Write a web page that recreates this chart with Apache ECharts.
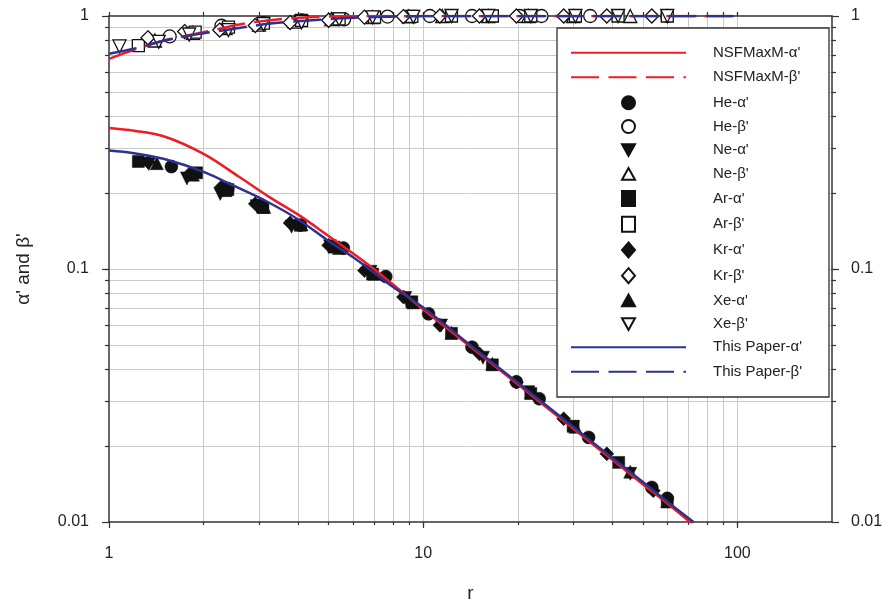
<!DOCTYPE html>
<html><head><meta charset="utf-8">
<script src="https://cdn.jsdelivr.net/npm/echarts@6/dist/echarts.min.js"></script>
<style>html,body{margin:0;padding:0;background:#fff}#c{width:888px;height:601px}</style>
</head><body><div id="c"></div>
<script>
// ---- curves ----
const nsfAlphaR = [1, 1.2, 1.5, 2, 2.6, 3.25, 4, 5, 6, 7, 8, 10, 15, 20, 30, 40, 50, 60, 72];
const nsfAlphaY = [0.361, 0.352, 0.334, 0.285, 0.231, 0.192, 0.164, 0.135, 0.1148, 0.0995, 0.0870, 0.0692, 0.0465, 0.0350, 0.0234, 0.0176, 0.0141, 0.0118, 0.0098];
const nsfBetaR = [1, 1.2, 1.5, 2, 2.6, 3.2, 4, 5, 6, 8, 10, 20, 50, 100];
const nsfBetaY = [0.677, 0.735, 0.800, 0.862, 0.926, 0.960, 0.983, 0.995, 0.999, 1.0, 1.0, 1.0, 1.0, 1.0];
const thisAlphaR = [1, 1.2, 1.5, 2, 2.5, 3.2, 4, 5, 6, 7, 8, 10, 15, 20, 30, 40, 50, 60, 72.5];
const thisAlphaY = [0.294, 0.287, 0.272, 0.242, 0.213, 0.184, 0.157, 0.129, 0.111, 0.0964, 0.0851, 0.0704, 0.0471, 0.0355, 0.0238, 0.0179, 0.0144, 0.0120, 0.0100];
const thisBetaR = [1, 1.2, 1.5, 2, 2.5, 3.2, 4, 5.2, 6.6, 8.4, 10, 20, 50, 100];
const thisBetaY = [0.709, 0.742, 0.800, 0.855, 0.890, 0.931, 0.954, 0.975, 0.989, 0.995, 0.999, 1.0, 1.0, 1.0];

// ---- measured points ----
const heAlphaR = [1.58, 2.39, 3.05, 4.06, 5.57, 7.6, 10.4, 14.3, 19.8, 23.4, 33.6, 53.4, 59.8];
const heAlphaY = [0.254, 0.208, 0.179, 0.149, 0.121, 0.0934, 0.0665, 0.0491, 0.0358, 0.0307, 0.0216, 0.0137, 0.0124];
const heBetaR = [1.56, 2.28, 3.1, 4.1, 5.6, 7.7, 10.5, 14.3, 20.3, 23.8, 34.0, 59.8];
const heBetaY = [0.830, 0.915, 0.937, 0.960, 0.970, 0.995, 1.0, 1.0, 1.0, 1.0, 1.0, 1.0];
const neAlphaR = [1.34, 1.77, 2.26, 2.95, 3.81, 5.05, 6.8, 8.77, 11.4, 15.5, 21.6, 30.0, 45.6];
const neAlphaY = [0.260, 0.228, 0.198, 0.177, 0.147, 0.123, 0.0975, 0.0768, 0.0598, 0.0446, 0.0326, 0.0237, 0.0155];
const neBetaR = [1.40, 1.85, 2.35, 3.0, 3.9, 5.1, 6.9, 9.0, 11.5, 16.1, 21.6, 30.0, 45.6];
const neBetaY = [0.800, 0.858, 0.895, 0.925, 0.950, 0.972, 0.990, 0.997, 1.0, 1.0, 1.0, 1.0, 1.0];
const arAlphaR = [1.24, 1.90, 2.39, 3.09, 4.06, 5.2, 6.9, 9.2, 12.3, 16.6, 22.0, 30.0, 41.9, 59.8];
const arAlphaY = [0.266, 0.240, 0.206, 0.175, 0.149, 0.122, 0.0955, 0.0742, 0.0557, 0.0418, 0.0322, 0.0239, 0.0172, 0.0120];
const arBetaR = [1.24, 1.88, 2.4, 3.1, 4.1, 5.4, 7.0, 9.2, 12.3, 16.6, 22.0, 30.5, 41.7, 59.8];
const arBetaY = [0.764, 0.863, 0.903, 0.937, 0.960, 0.975, 0.990, 0.997, 1.0, 1.0, 1.0, 1.0, 1.0, 1.0];
const krAlphaR = [1.33, 1.80, 2.28, 2.92, 3.77, 5.0, 6.5, 8.65, 11.3, 15.1, 19.8, 28.0, 38.4, 54.0];
const krAlphaY = [0.265, 0.237, 0.211, 0.181, 0.152, 0.124, 0.0986, 0.0775, 0.0600, 0.0462, 0.0357, 0.0256, 0.0186, 0.0133];
const krBetaR = [1.33, 1.74, 2.25, 2.92, 3.77, 5.0, 6.5, 8.65, 11.3, 15.1, 19.8, 28.0, 38.4, 53.4];
const krBetaY = [0.820, 0.868, 0.880, 0.917, 0.942, 0.962, 0.990, 0.995, 1.0, 1.0, 1.0, 1.0, 1.0, 1.0];
const xeAlphaR = [1.42, 1.85, 2.35, 3.12, 4.1, 5.4, 7.0, 9.3, 12.3, 16.6, 22.0, 30.5, 45.6, 59.8];
const xeAlphaY = [0.262, 0.236, 0.205, 0.176, 0.150, 0.121, 0.0957, 0.0738, 0.0560, 0.0422, 0.0325, 0.0238, 0.0158, 0.0121];
const xeBetaR = [1.08, 1.44, 1.80, 2.4, 3.1, 4.1, 5.4, 6.9, 9.3, 12.3, 16.1, 22.0, 30.5, 41.7, 59.8];
const xeBetaY = [0.758, 0.790, 0.845, 0.880, 0.928, 0.945, 0.970, 0.988, 0.992, 1.0, 1.0, 1.0, 1.0, 1.0, 1.0];

// ---- ticks ----
const xMajor = [1, 10, 100];
const xMinor = [2, 3, 4, 5, 6, 7, 8, 9, 10, 20, 30, 40, 50, 60, 70, 80, 90, 100];
const yMajor = [0.01, 0.1, 1];
const yMinor = [0.02, 0.03, 0.04, 0.05, 0.06, 0.07, 0.08, 0.09, 0.1, 0.2, 0.3, 0.4, 0.5, 0.6, 0.7, 0.8, 0.9];

const lineNames = ["NSFMaxM-\u03b1'", "NSFMaxM-\u03b2'"];
const gasNames = ["He-\u03b1'", "He-\u03b2'", "Ne-\u03b1'", "Ne-\u03b2'", "Ar-\u03b1'", "Ar-\u03b2'", "Kr-\u03b1'", "Kr-\u03b2'", "Xe-\u03b1'", "Xe-\u03b2'"];
const paperNames = ["This Paper-\u03b1'", "This Paper-\u03b2'"];

const FONT = "'Liberation Sans', Arial, sans-serif";
const RED = '#ee1d24', BLUE = '#2e3192', INK = '#111';
const TRI_DOWN = 'path://M0,0L20,0L10,18Z';
const TRI_UP = 'path://M10,0L20,18L0,18Z';

function pts(rs, ys) { return rs.map((r, i) => [r, ys[i]]); }
function sc(name, rs, ys, symbol, filled, size) {
  return {
    type: 'scatter', name, data: pts(rs, ys), symbol, symbolSize: size,
    clip: false, z: 2,
    itemStyle: filled ? { color: INK, borderColor: INK, borderWidth: 0.5, opacity: 1 }
                      : { color: '#fff', borderColor: INK, borderWidth: 1.3, opacity: 1 }
  };
}
function ln(name, rs, ys, color, dashed, z) {
  return {
    type: 'line', name, data: pts(rs, ys), symbol: 'none', showSymbol: false, smooth: 0.35,
    z, itemStyle: { color }, lineStyle: { color, width: 2.5, type: dashed ? [28, 9.5] : 'solid' }
  };
}

const axisLineStyle = { color: '#333', width: 1.5 };
const tickStyle = { color: '#333', width: 1.2 };
const labelStyle = { fontSize: 16, color: '#222', fontFamily: FONT };
const gridLine = { show: true, lineStyle: { color: '#cacaca', width: 1 } };

const xBase = { type: 'log', logBase: 10, min: 1, max: 200, gridIndex: 0 };
const yBase = { type: 'log', logBase: 10, min: 0.01, max: 1, gridIndex: 0 };
const legendText = (pad) => ({ fontSize: 15, color: '#222', fontFamily: FONT, lineHeight: 15, padding: [0, 0, 0, pad] });

const option = {
  animation: false,
  backgroundColor: '#fff',
  grid: { left: 109, right: 56, top: 16, bottom: 79, containLabel: false, outerBoundsMode: 'none' },
  xAxis: [
    Object.assign({}, xBase, {
      position: 'bottom', axisLine: { show: true, lineStyle: axisLineStyle },
      axisTick: { show: true, customValues: xMajor, length: 6, lineStyle: tickStyle },
      axisLabel: Object.assign({ customValues: xMajor, margin: 24 }, labelStyle),
      splitLine: { show: false },
      name: 'r', nameLocation: 'middle', nameGap: 62,
      nameTextStyle: { fontSize: 19, color: '#222', fontFamily: FONT }
    }),
    Object.assign({}, xBase, {
      position: 'bottom', axisLine: { show: false },
      axisTick: { show: true, customValues: xMinor, length: 3, lineStyle: tickStyle },
      axisLabel: { show: false }, splitLine: gridLine
    }),
    Object.assign({}, xBase, {
      position: 'top', axisLine: { show: true, lineStyle: axisLineStyle },
      axisTick: { show: true, customValues: xMajor.concat(xMinor), length: 4, lineStyle: tickStyle },
      axisLabel: { show: false }, splitLine: { show: false }
    })
  ],
  yAxis: [
    Object.assign({}, yBase, {
      position: 'left', axisLine: { show: true, lineStyle: axisLineStyle },
      axisTick: { show: true, customValues: yMajor, length: 7, lineStyle: tickStyle },
      axisLabel: Object.assign({ customValues: yMajor, margin: 20 }, labelStyle),
      splitLine: { show: false },
      name: "\u03b1' and \u03b2'", nameLocation: 'middle', nameGap: 76,
      nameTextStyle: { fontSize: 19, color: '#222', fontFamily: FONT }
    }),
    Object.assign({}, yBase, {
      position: 'left', axisLine: { show: false },
      axisTick: { show: true, customValues: yMinor, length: 4, lineStyle: tickStyle },
      axisLabel: { show: false }, splitLine: gridLine
    }),
    Object.assign({}, yBase, {
      position: 'right', axisLine: { show: true, lineStyle: axisLineStyle },
      axisTick: { show: true, customValues: yMajor, length: 7, lineStyle: tickStyle },
      axisLabel: Object.assign({ customValues: yMajor, margin: 19 }, labelStyle),
      splitLine: { show: false }
    }),
    Object.assign({}, yBase, {
      position: 'right', axisLine: { show: false },
      axisTick: { show: true, customValues: yMinor, length: 4, lineStyle: tickStyle },
      axisLabel: { show: false }, splitLine: { show: false }
    })
  ],
  legend: [
    {
      data: lineNames, orient: 'vertical', left: 570, top: 45.2, padding: 0,
      itemWidth: 115, itemHeight: 15, itemGap: 9.5, selectedMode: false, z: 6,
      itemStyle: { opacity: 0 },
      textStyle: legendText(22)
    },
    {
      data: gasNames, orient: 'vertical', left: 621, top: 95.3, padding: 0,
      itemWidth: 13, itemHeight: 15, itemGap: 8.7, selectedMode: false, z: 6,
      textStyle: legendText(73)
    },
    {
      data: paperNames, orient: 'vertical', left: 570, top: 339.8, padding: 0,
      itemWidth: 115, itemHeight: 15, itemGap: 9.5, selectedMode: false, z: 6,
      itemStyle: { opacity: 0 },
      textStyle: legendText(22)
    }
  ],
  graphic: [{
    type: 'rect', z: 5, silent: true,
    shape: { x: 557, y: 28, width: 272, height: 369 },
    style: { fill: '#fff', stroke: '#333', lineWidth: 1.3 }
  }],
  series: [
    sc(gasNames[0], heAlphaR, heAlphaY, 'circle', true, 13),
    sc(gasNames[1], heBetaR, heBetaY, 'circle', false, 13),
    sc(gasNames[2], neAlphaR, neAlphaY, TRI_DOWN, true, 13),
    sc(gasNames[3], neBetaR, neBetaY, TRI_UP, false, 13),
    sc(gasNames[4], arAlphaR, arAlphaY, 'rect', true, 12),
    sc(gasNames[5], arBetaR, arBetaY, 'rect', false, 12),
    sc(gasNames[6], krAlphaR, krAlphaY, 'diamond', true, 14),
    sc(gasNames[7], krBetaR, krBetaY, 'diamond', false, 14),
    sc(gasNames[8], xeAlphaR, xeAlphaY, TRI_UP, true, 13),
    sc(gasNames[9], xeBetaR, xeBetaY, TRI_DOWN, false, 13),
    ln(lineNames[0], nsfAlphaR, nsfAlphaY, RED, false, 3),
    ln(lineNames[1], nsfBetaR, nsfBetaY, RED, true, 3),
    ln(paperNames[0], thisAlphaR, thisAlphaY, BLUE, false, 4),
    ln(paperNames[1], thisBetaR, thisBetaY, BLUE, true, 4)
  ]
};
const chart = echarts.init(document.getElementById('c'));
chart.setOption(option);
</script></body></html>
